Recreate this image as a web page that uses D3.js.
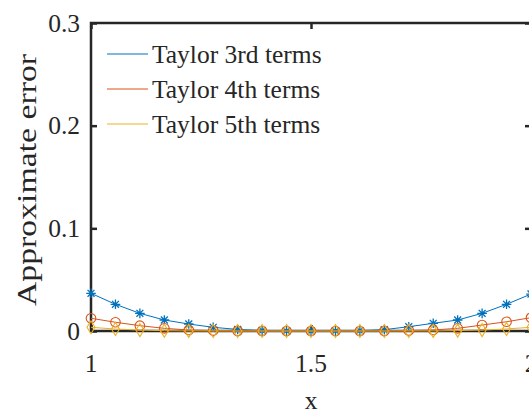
<!DOCTYPE html>
<html>
<head>
<meta charset="utf-8">
<script src="https://cdn.jsdelivr.net/npm/d3@7"></script>
<style>
  html, body { margin: 0; padding: 0; background: #fff; }
  svg { display: block; }
  svg text { font-family: "Liberation Serif", "DejaVu Serif", serif; fill: #262626; }
</style>
</head>
<body>
<svg id="chart" width="529" height="412"></svg>
<script>
// Sample points: 19 evenly spaced x values on [1, 2]
const xs = [1, 1.0556, 1.1111, 1.1667, 1.2222, 1.2778, 1.3333, 1.3889, 1.4444, 1.5,
            1.5556, 1.6111, 1.6667, 1.7222, 1.7778, 1.8333, 1.8889, 1.9444, 2];

// Approximation error of each truncated Taylor series
const taylor3 = [0.0367, 0.0260, 0.0172, 0.0107, 0.0068, 0.0036, 0.0015, 0.0005, 0.0001, 0.0000,
                 0.0001, 0.0004, 0.0013, 0.0042, 0.0075, 0.0107, 0.0172, 0.0260, 0.0360];
const taylor4 = [0.0124, 0.0085, 0.0052, 0.0026, 0.0010, 0.0004, 0.0001, 0.0000, 0.0000, 0.0000,
                 0.0000, 0.0000, 0.0001, 0.0005, 0.0010, 0.0026, 0.0058, 0.0090, 0.0130];
const taylor5 = [0.0036, 0.0019, 0.0009, 0.0003, 0.0001, 0.0000, 0.0000, 0.0000, 0.0000, 0.0000,
                 0.0000, 0.0000, 0.0000, 0.0000, 0.0001, 0.0004, 0.0009, 0.0020, 0.0036];

const seriesNames = ["Taylor 3rd terms", "Taylor 4th terms", "Taylor 5th terms"];
const seriesColors = ["#0072BD", "#D95319", "#EDB120"];
const seriesMarkers = ["asterisk", "circle", "diamond"];

const xTicks = [1, 1.5, 2];
const xTickLabels = ["1", "1.5", "2"];
const yTicks = [0, 0.1, 0.2, 0.3];
const yTickLabels = ["0", "0.1", "0.2", "0.3"];

const svg = d3.select("#chart");
const axisColor = "#262626";
const serif = '"Liberation Serif", "DejaVu Serif", serif';
const plotLeft = 91, plotRight = 531, plotTop = 23, plotBottom = 331;
const fontSize = 25.5;

const x = d3.scaleLinear().domain([1, 2]).range([plotLeft, plotRight]);
const y = d3.scaleLinear().domain([0, 0.3]).range([plotBottom, plotTop]);

// Axes box, ticks pointing inward on all four sides
const axisG = svg.append("g");
const tickLen = 6;
const xAxisBottom = d3.axisBottom(x).tickValues(xTicks).tickSize(-tickLen).tickFormat("");
const xAxisTop = d3.axisTop(x).tickValues(xTicks).tickSize(-tickLen).tickFormat("");
const yAxisLeft = d3.axisLeft(y).tickValues(yTicks).tickSize(-tickLen).tickFormat("");
const yAxisRight = d3.axisRight(y).tickValues(yTicks).tickSize(-tickLen).tickFormat("");

axisG.append("g").attr("transform", `translate(0,${plotBottom})`).call(xAxisBottom);
axisG.append("g").attr("transform", `translate(0,${plotTop})`).call(xAxisTop);
axisG.append("g").attr("transform", `translate(${plotLeft},0)`).call(yAxisLeft);
axisG.append("g").attr("transform", `translate(${plotRight},0)`).call(yAxisRight);
axisG.selectAll(".domain").remove();
axisG.selectAll(".tick line").attr("stroke", axisColor).attr("stroke-width", 2.5);

axisG.append("rect")
  .attr("x", plotLeft).attr("y", plotTop)
  .attr("width", plotRight - plotLeft).attr("height", plotBottom - plotTop)
  .attr("fill", "none").attr("stroke", axisColor).attr("stroke-width", 2.5);

// Tick labels
svg.append("g").selectAll("text").data(xTicks).join("text")
  .attr("x", d => x(d)).attr("y", 372)
  .attr("text-anchor", "middle").attr("font-size", fontSize).attr("font-family", serif)
  .text((d, i) => xTickLabels[i]);

svg.append("g").selectAll("text").data(yTicks).join("text")
  .attr("x", 80).attr("y", d => y(d) + 8.5)
  .attr("text-anchor", "end").attr("font-size", fontSize).attr("font-family", serif)
  .text((d, i) => yTickLabels[i]);

// Axis titles
svg.append("text")
  .attr("x", (plotLeft + plotRight) / 2).attr("y", 409)
  .attr("text-anchor", "middle").attr("font-size", fontSize).attr("font-family", serif)
  .text("x");

svg.append("text")
  .attr("transform", `translate(36,180) rotate(-90)`)
  .attr("x", -126)
  .attr("font-size", 28).attr("font-family", serif)
  .attr("textLength", 252).attr("lengthAdjust", "spacingAndGlyphs")
  .text("Approximate error");

// Series lines and markers
const data = [taylor3, taylor4, taylor5];
const line = d3.line().x(d => x(d[0])).y(d => y(d[1]));

function drawMarker(g, kind, color) {
  if (kind === "asterisk") {
    const r = 4.8, q = r * 0.72;
    g.append("path")
      .attr("d", `M${-r},0L${r},0M0,${-r}L0,${r}M${-q},${-q}L${q},${q}M${-q},${q}L${q},${-q}`)
      .attr("stroke", color).attr("stroke-width", 1.3).attr("fill", "none");
  } else if (kind === "circle") {
    g.append("circle").attr("r", 4.8)
      .attr("stroke", color).attr("stroke-width", 1.1).attr("fill", "none");
  } else {
    g.append("path").attr("d", "M0,-6.5L4,0L0,6.5L-4,0Z")
      .attr("stroke", color).attr("stroke-width", 1.1).attr("fill", "none");
  }
}

data.forEach((vals, si) => {
  const pts = xs.map((xv, i) => [xv, vals[i]]);
  const g = svg.append("g");
  g.append("path").datum(pts)
    .attr("d", line).attr("fill", "none")
    .attr("stroke", seriesColors[si]).attr("stroke-width", 1);
  g.selectAll("g.m").data(pts).join("g")
    .attr("class", "m")
    .attr("transform", d => `translate(${x(d[0])},${y(d[1])})`)
    .each(function () { drawMarker(d3.select(this), seriesMarkers[si], seriesColors[si]); });
});

// Legend (lines only)
const legend = svg.append("g");
seriesNames.forEach((name, i) => {
  const ly = 54 + i * 35;
  legend.append("line")
    .attr("x1", 107).attr("x2", 148).attr("y1", ly).attr("y2", ly)
    .attr("stroke", seriesColors[i]).attr("stroke-width", 1);
  legend.append("text")
    .attr("x", 152).attr("y", ly + 8.5)
    .attr("font-size", fontSize).attr("font-family", serif)
    .text(name);
});
</script>
</body>
</html>
